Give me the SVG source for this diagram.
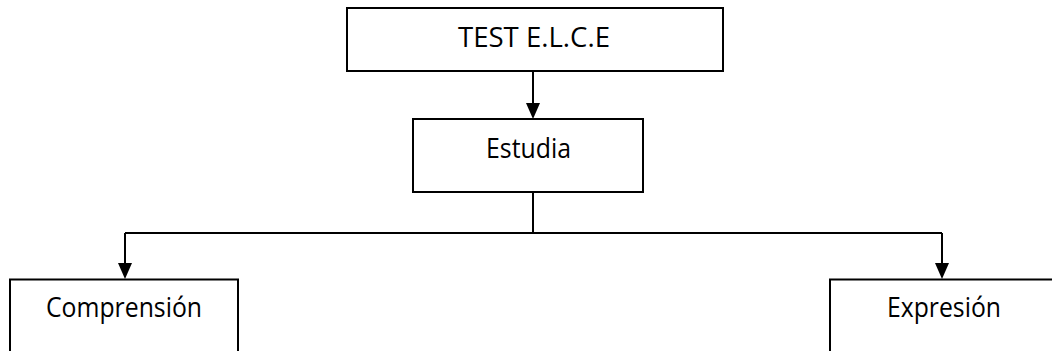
<svg xmlns="http://www.w3.org/2000/svg" width="1052" height="351" viewBox="0 0 1052 351">
<style>
.box{fill:#fff;stroke:#000;stroke-width:2}
.lbl{font-family:"Open Sans","Noto Sans",sans-serif;font-size:26.5px;fill:#000}
.con{fill:none;stroke:#000;stroke-width:2}
.head{fill:#000}
</style>
<rect width="1052" height="351" fill="#fff"/>
<g id="connectors">
<path class="con" d="M533,72 V103"/>
<path class="head" d="M526,103 L540,103 L533,119 Z"/>
<path class="con" d="M533,193 V233 M125,233 H942 M125,233 V263 M942,233 V263"/>
<path class="head" d="M118,263 L132,263 L125,279 Z"/>
<path class="head" d="M935,263 L949,263 L942,279 Z"/>
</g>
<g id="node-test">
<rect class="box" x="347" y="8" width="376" height="63"/>
<text class="lbl" x="534" y="47" text-anchor="middle" textLength="152" lengthAdjust="spacingAndGlyphs">TEST E.L.C.E</text>
</g>
<g id="node-estudia">
<rect class="box" x="413" y="119" width="230" height="73"/>
<text class="lbl" x="528.5" y="158" text-anchor="middle" textLength="85" lengthAdjust="spacingAndGlyphs">Estudia</text>
</g>
<g id="node-comprension">
<rect class="box" x="10" y="279.5" width="228" height="90"/>
<text class="lbl" x="124" y="317" text-anchor="middle" textLength="156" lengthAdjust="spacingAndGlyphs">Comprensión</text>
</g>
<g id="node-expresion">
<rect class="box" x="830" y="279.5" width="240" height="90"/>
<text class="lbl" x="944" y="317" text-anchor="middle" textLength="114" lengthAdjust="spacingAndGlyphs">Expresión</text>
</g>
</svg>
